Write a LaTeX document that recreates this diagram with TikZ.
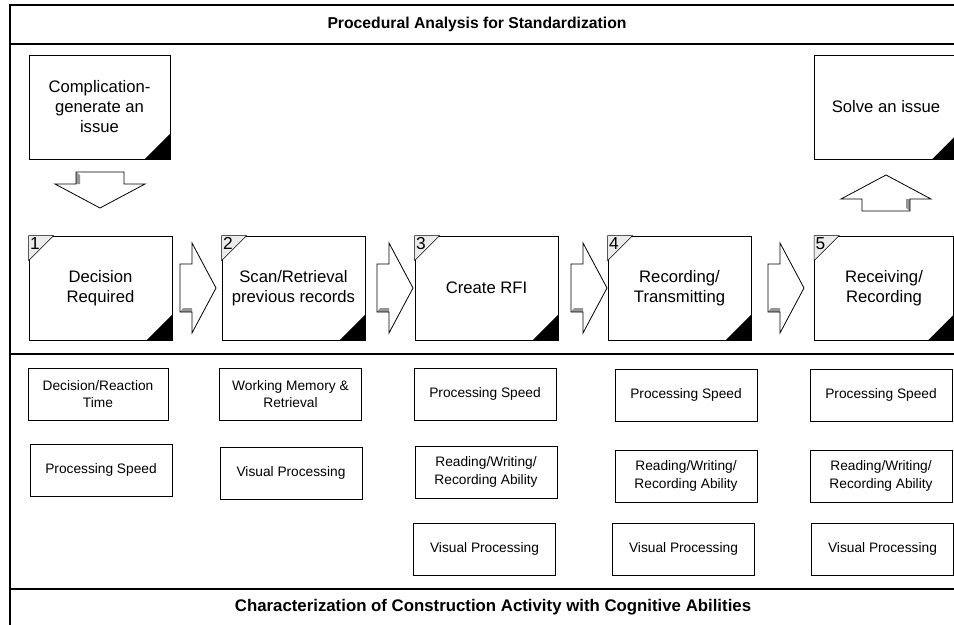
\documentclass[tikz,border=0pt]{standalone}
\usepackage{fontspec}
\setmainfont{Liberation Sans}
\begin{document}
\begin{tikzpicture}[x=0.75pt,y=-0.75pt]
    \definecolor{step_shade}{RGB}{150,150,150}
    \definecolor{step_num}{RGB}{236,236,236}
    \tikzset{
      framerule/.style={line width=1.9pt},
      stepbox/.style={shape=rectangle,draw,line width=0.6pt,fill=white,minimum width=107.25pt,minimum height=78pt,align=center,inner sep=0pt,font=\fontsize{12.5}{15}\selectfont},
      abilitybox/.style={shape=rectangle,draw,line width=0.5pt,minimum width=106.5pt,minimum height=39pt,align=center,inner sep=0pt,font=\fontsize{10.3}{13}\selectfont},
      headline/.style={font=\fontsize{11.8}{14}\selectfont\bfseries},
      blockarrow/.pic={
        \fill[white] (-18,-24) -- (-6,-24) -- (-6,-45) -- (18,0) -- (-6,45) -- (-6,24) -- (-18,24) -- cycle;
        \fill[step_shade] (-18,24) -- (-6,24) -- (-6,20) -- (-15,20) -- cycle;
        \draw[line width=0.6pt] (-18,-24) -- (-6,-24) -- (-6,-45) -- (18,0) -- (-6,45) -- (-6,24) -- (-18,24) -- cycle;
      }
    }
    \clip (0,0) rectangle (954,625);
    \draw[framerule] (10,625) -- (10,5) -- (960,5);
    \draw[framerule] (10,44) -- (960,44);
    \draw[framerule] (10,354) -- (960,354);
    \draw[framerule] (10,589) -- (960,589);
    \node[headline] (toptitle) at (477,24) {Procedural Analysis for Standardization};
    \node[headline,font=\fontsize{12.6}{14}\selectfont\bfseries] (bottomtitle) at (493,607) {Characterization of Construction Activity with Cognitive Abilities};
    \node[stepbox,minimum width=105.75pt] (issue) at (99.5,107) {Complication-\\generate an\\issue};
    \node[stepbox] (solve) at (886,107) {Solve an issue};
    \fill (issue.south east) -- ++(-26,0) -- ++(26,-26) -- cycle;
    \fill (solve.south east) -- ++(-26,0) -- ++(26,-26) -- cycle;
    \node[stepbox] (step1) at (100.5,288) {Decision\\Required};
    \node[stepbox] (step2) at (293.5,288) {Scan/Retrieval\\previous records};
    \node[stepbox] (step3) at (486.5,288) {Create RFI};
    \node[stepbox] (step4) at (679.5,288) {Recording/\\Transmitting};
    \node[stepbox,minimum width=104.25pt] (step5) at (884,288) {Receiving/\\Recording};
    \foreach \n in {1,...,5} {
      \filldraw[fill=step_num,line width=0.4pt] (step\n.north west) -- ++(25,0) -- ++(-25,25) -- cycle;
      \node[anchor=north west,inner sep=1pt,font=\fontsize{13}{15}\selectfont] (num\n) at (step\n.north west) {\n};
      \fill (step\n.south east) -- ++(-26,0) -- ++(26,-26) -- cycle;
    }
    \pic[rotate=-90] at (100,190) {blockarrow};
    \pic[rotate=90] at (886,193) {blockarrow};
    \pic at (198,288) {blockarrow};
    \pic at (395,288) {blockarrow};
    \pic at (589,288) {blockarrow};
    \pic at (786,288) {blockarrow};
    \node[abilitybox,minimum width=105pt] (ab11) at (98,394) {Decision/Reaction\\Time};
    \node[abilitybox] (ab12) at (101,470) {Processing Speed};
    \node[abilitybox] (ab21) at (290.5,394) {Working Memory \&\\Retrieval};
    \node[abilitybox] (ab22) at (291,473) {Visual Processing};
    \node[abilitybox] (ab31) at (485,394) {Processing Speed};
    \node[abilitybox] (ab32) at (486,472) {Reading/Writing/\\Recording Ability};
    \node[abilitybox] (ab33) at (484.5,549) {Visual Processing};
    \node[abilitybox] (ab41) at (686,395) {Processing Speed};
    \node[abilitybox] (ab42) at (686,476) {Reading/Writing/\\Recording Ability};
    \node[abilitybox] (ab43) at (683.5,549) {Visual Processing};
    \node[abilitybox] (ab51) at (881,395) {Processing Speed};
    \node[abilitybox] (ab52) at (881,476) {Reading/Writing/\\Recording Ability};
    \node[abilitybox] (ab53) at (882.5,549) {Visual Processing};
\end{tikzpicture}
\end{document}
